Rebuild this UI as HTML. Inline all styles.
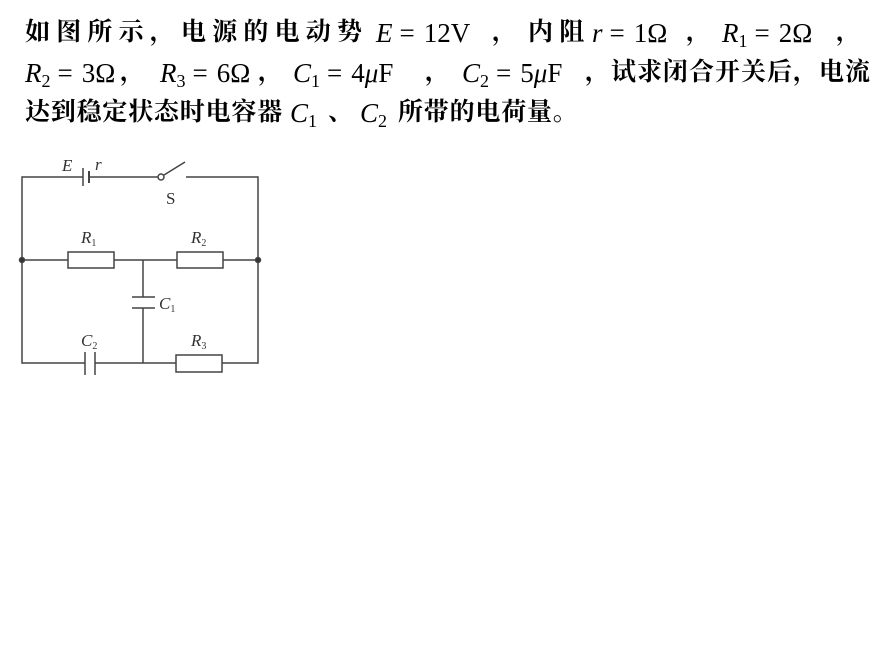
<!DOCTYPE html>
<html><head><meta charset="utf-8">
<style>
html,body{margin:0;padding:0;background:#fff;width:893px;height:666px;overflow:hidden}
.s{position:absolute;font-family:"Liberation Serif","Noto Serif CJK SC",serif;font-size:25px;font-weight:bold;color:#000;white-space:nowrap;line-height:30px}
i,.m{font-family:"Liberation Serif",serif;font-weight:normal;font-size:27px}
i{font-style:italic}
.e{margin:0 9px 0 7px}
sub{font-size:18px;font-style:normal;font-weight:normal;vertical-align:-5px;line-height:0;font-family:"Liberation Serif",serif}
.ls{letter-spacing:6.2px}
</style></head><body>
<div class="s ls" style="left:25px;top:18px">如图所示，电源的电动势</div>
<div class="s" style="left:376px;top:18px"><i>E</i><span class="m e">=</span><span class="m">12V</span></div>
<div class="s" style="left:492px;top:18px">，</div>
<div class="s ls" style="left:528px;top:18px">内阻</div>
<div class="s" style="left:592px;top:18px"><i>r</i><span class="m e">=</span><span class="m">1Ω</span></div>
<div class="s" style="left:686px;top:18px">，</div>
<div class="s" style="left:722px;top:18px"><i>R</i><sub>1</sub><span class="m e">=</span><span class="m">2Ω</span></div>
<div class="s" style="left:836px;top:18px">，</div>
<div class="s" style="left:25px;top:58px"><i>R</i><sub>2</sub><span class="m e">=</span><span class="m">3Ω</span></div>
<div class="s" style="left:120px;top:58px">，</div>
<div class="s" style="left:160px;top:58px"><i>R</i><sub>3</sub><span class="m e">=</span><span class="m">6Ω</span></div>
<div class="s" style="left:258px;top:58px">，</div>
<div class="s" style="left:293px;top:58px"><i>C</i><sub>1</sub><span class="m e">=</span><span class="m">4</span><i>μ</i><span class="m">F</span></div>
<div class="s" style="left:425px;top:58px">，</div>
<div class="s" style="left:462px;top:58px"><i>C</i><sub>2</sub><span class="m e">=</span><span class="m">5</span><i>μ</i><span class="m">F</span></div>
<div class="s" style="left:585px;top:58px;letter-spacing:1px">，试求闭合开关后，电流</div>
<div class="s" style="left:25px;top:98px;letter-spacing:0.8px">达到稳定状态时电容器</div>
<div class="s" style="left:290px;top:98px"><i>C</i><sub>1</sub></div>
<div class="s" style="left:328px;top:98px">、</div>
<div class="s" style="left:360px;top:98px"><i>C</i><sub>2</sub></div>
<div class="s" style="left:398px;top:98px;letter-spacing:0.8px">所带的电荷量。</div>
<svg width="893" height="666" style="position:absolute;left:0;top:0" font-family="Liberation Serif,serif" fill="none" stroke="#444" stroke-width="1.5">
<polyline points="83,177 22,177 22,363 85,363"/>
<line x1="89" y1="177" x2="158" y2="177"/>
<line x1="83" y1="168" x2="83" y2="186"/>
<line x1="89" y1="171" x2="89" y2="183" stroke-width="2"/>
<circle cx="161" cy="177" r="3"/>
<line x1="164" y1="175" x2="185" y2="162"/>
<polyline points="186,177 258,177 258,363 222,363"/>
<line x1="22" y1="260" x2="68" y2="260"/>
<rect x="68" y="252" width="46" height="16"/>
<line x1="114" y1="260" x2="177" y2="260"/>
<rect x="177" y="252" width="46" height="16"/>
<line x1="223" y1="260" x2="258" y2="260"/>
<circle cx="22" cy="260" r="2.5" fill="#333"/>
<circle cx="258" cy="260" r="2.5" fill="#333"/>
<line x1="143" y1="260" x2="143" y2="297"/>
<line x1="132" y1="297" x2="155" y2="297"/>
<line x1="132" y1="308" x2="155" y2="308"/>
<line x1="143" y1="308" x2="143" y2="363"/>
<line x1="85" y1="352" x2="85" y2="375"/>
<line x1="95" y1="352" x2="95" y2="375"/>
<line x1="95" y1="363" x2="176" y2="363"/>
<rect x="176" y="355" width="46" height="17"/>
<g fill="#333" stroke="none" font-size="17">
<text x="62" y="171" font-style="italic">E</text>
<text x="95" y="170" font-style="italic">r</text>
<text x="166" y="204">S</text>
<text x="81" y="243" font-style="italic">R<tspan font-size="10" dy="3" font-style="normal">1</tspan></text>
<text x="191" y="243" font-style="italic">R<tspan font-size="10" dy="3" font-style="normal">2</tspan></text>
<text x="159" y="309" font-style="italic">C<tspan font-size="10" dy="3" font-style="normal">1</tspan></text>
<text x="81" y="346" font-style="italic">C<tspan font-size="10" dy="3" font-style="normal">2</tspan></text>
<text x="191" y="346" font-style="italic">R<tspan font-size="10" dy="3" font-style="normal">3</tspan></text>
</g>
</svg>
</body></html>
